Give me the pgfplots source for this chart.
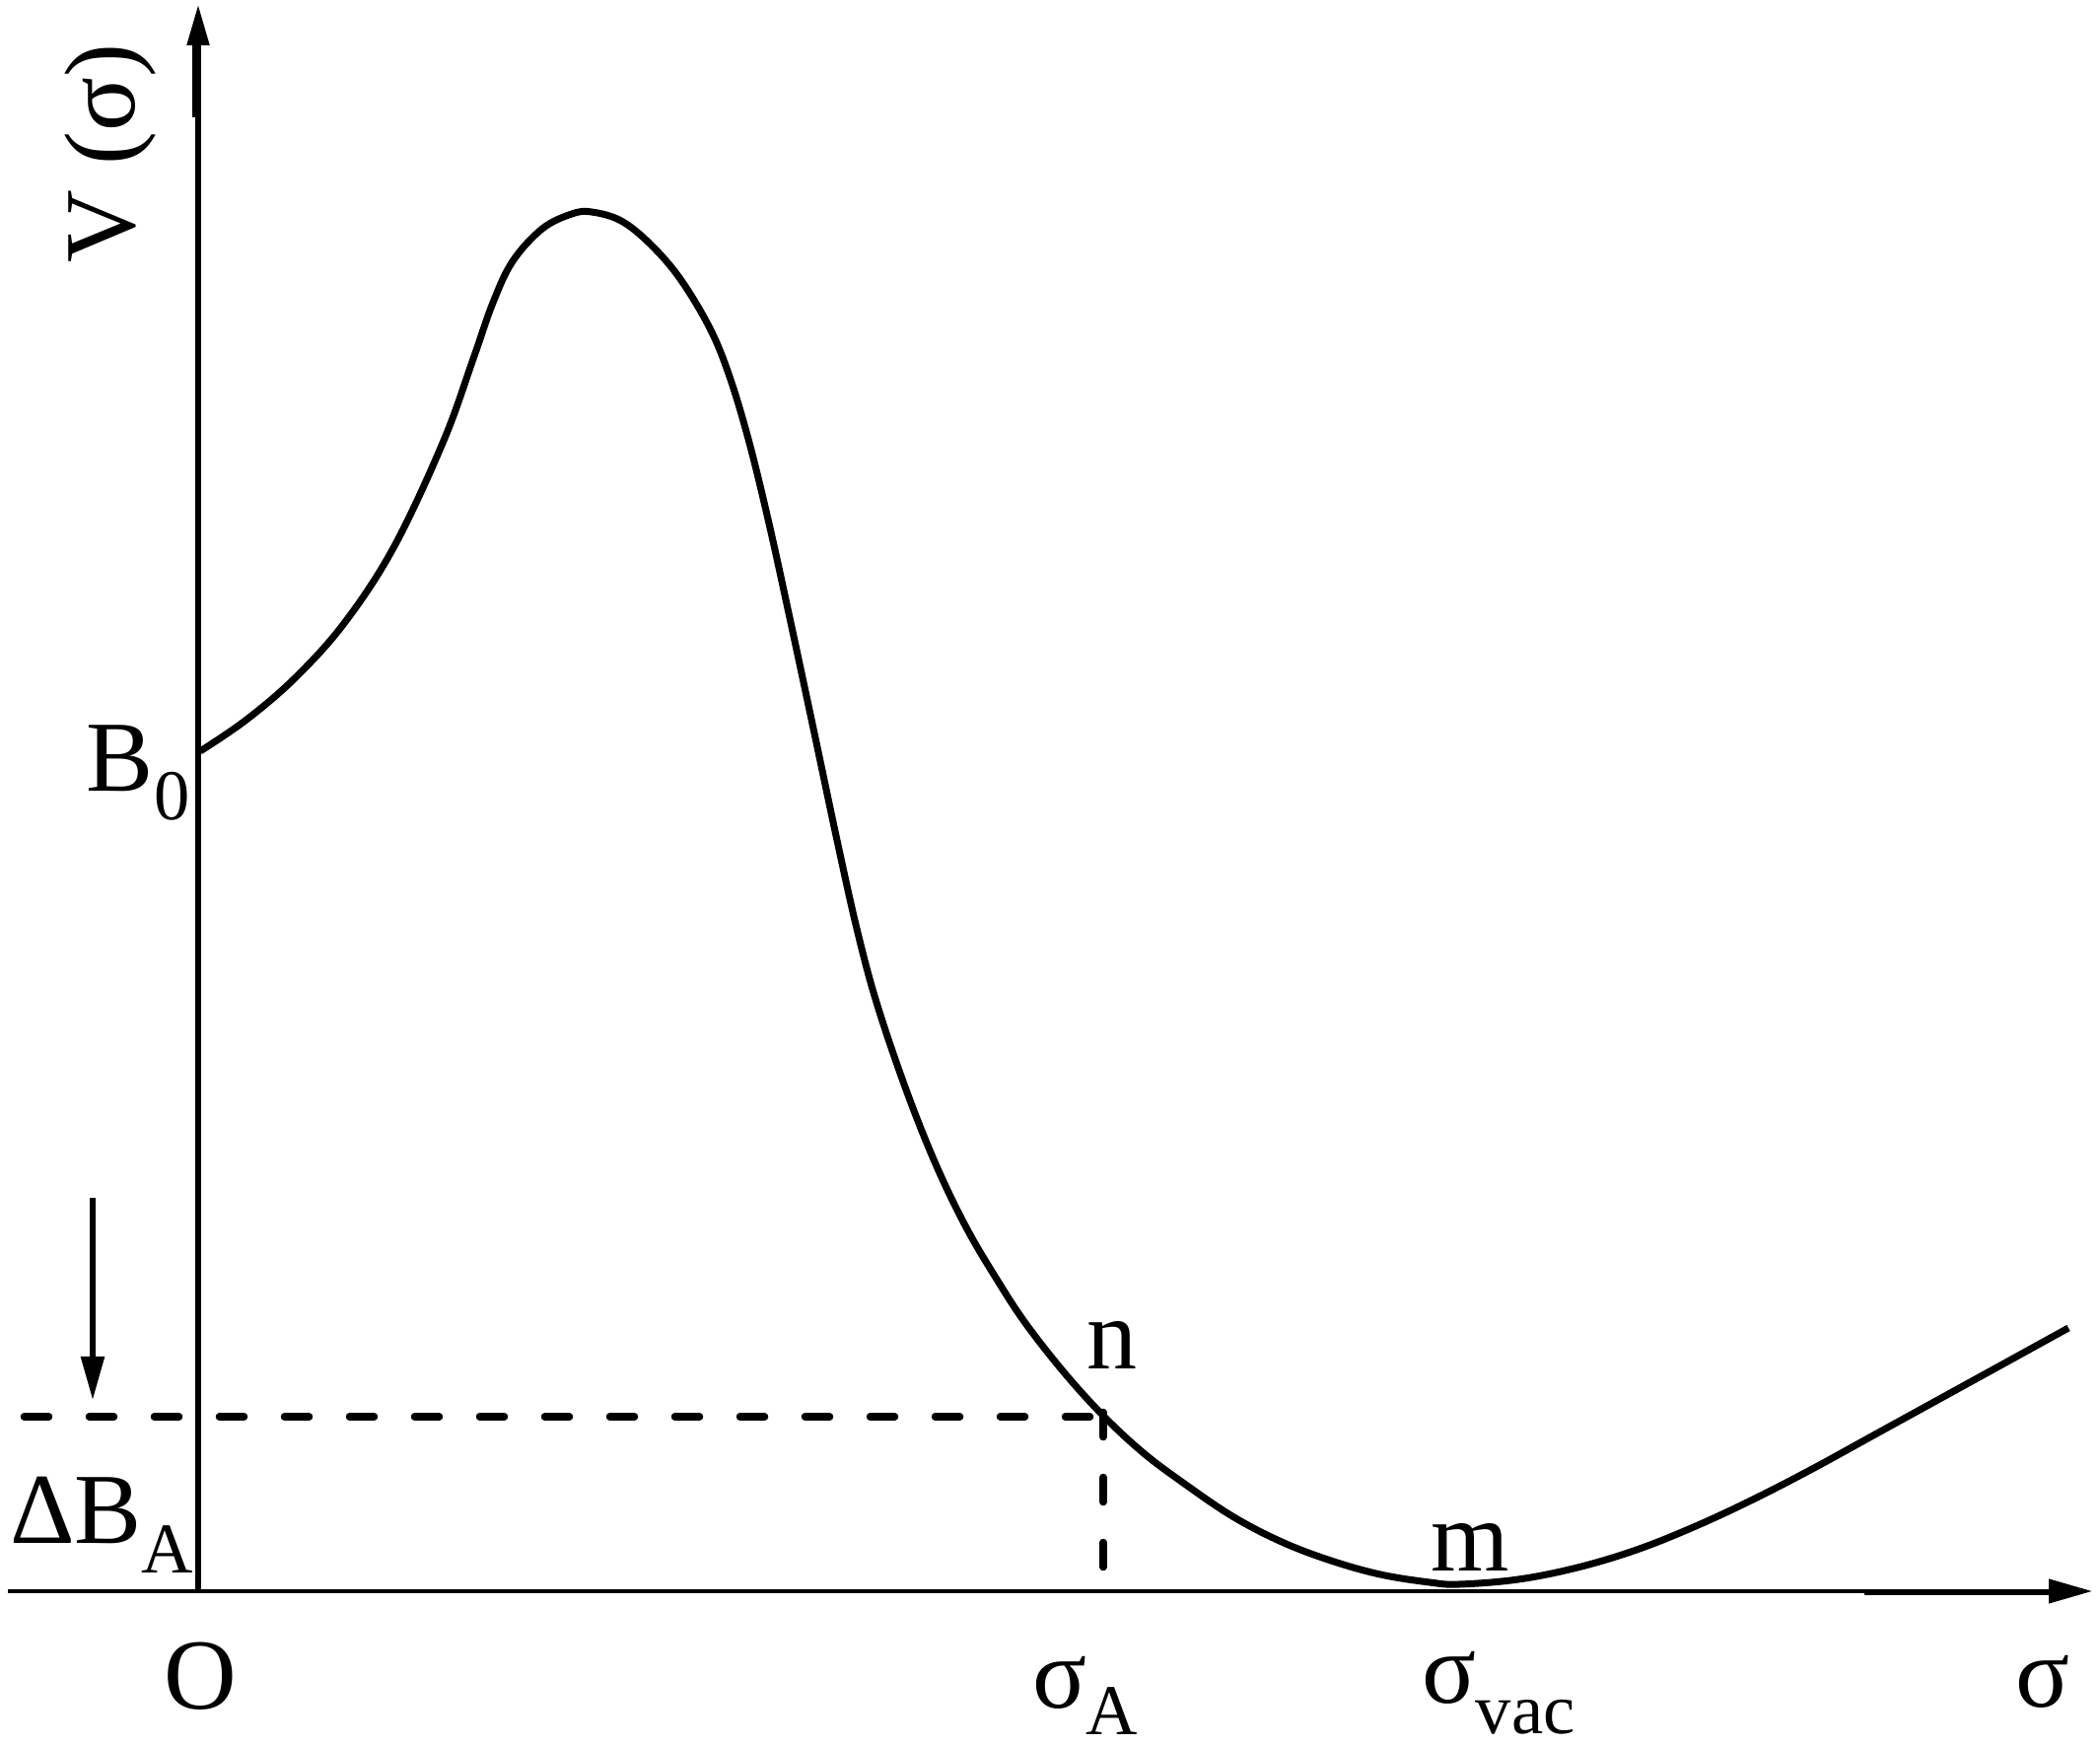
\documentclass[border=0pt]{standalone}
\usepackage{pgfplots}
\pgfplotsset{compat=1.18}
\usepackage{fontspec}
\setmainfont{Liberation Serif}
\usetikzlibrary{arrows.meta}
\newcommand{\lblfont}{\fontsize{20.4}{24}\selectfont}
\newcommand{\subfont}{\fontsize{14.5}{16}\selectfont}
\begin{document}
\begin{tikzpicture}
\begin{axis}[
  width=426pt, height=353.8pt, scale only axis,
  xmin=0, xmax=2130, ymin=0, ymax=1769,
  enlargelimits=false, hide axis, clip=false,
]
% bounding area
\addplot[draw=none] coordinates {(0,0) (2130,1769)};
% y axis
\addplot[line width=1.05pt, -{Triangle[length=8.2pt,width=4.4pt]}] coordinates {(201,153) (201,1764)};
\addplot[line width=1.05pt] coordinates {(198,1650) (198,1723)};
% x axis
\addplot[line width=0.85pt, -{Triangle[length=8.8pt,width=4.8pt]}] coordinates {(8,155) (2122,155)};
\addplot[line width=1.1pt] coordinates {(1891,153.5) (2085,153.5)};
% dashed lines
\addplot[line width=1.5pt, line cap=round, dash pattern=on 5pt off 8.2pt] coordinates {(24.5,332) (1105.5,332)};
\addplot[line width=1.5pt, line cap=round, dash pattern=on 5pt off 8.2pt] coordinates {(1119,336.5) (1119,179.5)};
% left arrow
\addplot[line width=1.1pt, -{Triangle[length=8.8pt,width=4.6pt]}] coordinates {(94,554) (94,349)};
% potential curve
\addplot[line width=1.4pt, smooth, tension=0.6] coordinates {
(203,1007) (250,1039) (300,1082) (350,1138) (400,1215) (450,1322)
(480,1405) (500,1462) (520,1504) (550,1537) (580,1552) (600,1554)
(630,1545) (660,1521) (690,1486) (720,1436) (740,1387) (760,1320)
(780,1238) (800,1147) (825,1030) (850,912) (870,823) (890,749)
(920,661) (950,586) (980,524) (1010,473) (1040,427) (1080,376)
(1120,332) (1160,295) (1200,265) (1250,231) (1300,205) (1350,186)
(1400,172) (1450,164) (1480,162) (1540,167) (1600,179) (1660,197)
(1720,221) (1780,249) (1840,280) (1900,313) (1960,346) (2020,379)
(2098,422)
};
% labels
\node[anchor=base west, inner sep=0pt, font=\lblfont] at (axis cs:87,966) {B\raisebox{-5.8pt}{\subfont 0}};
\node[anchor=base west, inner sep=0pt, font=\lblfont] at (axis cs:9,204) {ΔB\raisebox{-6pt}{\subfont A}};
\node[anchor=base, inner sep=0pt, font=\lblfont] at (axis cs:203,36) {O};
\node[anchor=base west, inner sep=0pt, font=\lblfont] at (axis cs:1046,37) {σ\raisebox{-5.4pt}{\subfont A}};
\node[anchor=base west, inner sep=0pt, font=\lblfont] at (axis cs:1441,42) {σ\raisebox{-6.2pt}{\subfont vac}};
\node[anchor=base west, inner sep=0pt, font=\lblfont] at (axis cs:2043,38) {σ};
\node[anchor=base west, inner sep=0pt, font=\lblfont] at (axis cs:1101,380) {n};
\node[anchor=base west, inner sep=0pt, font=\lblfont] at (axis cs:1450,176) {m};
\node[anchor=base west, inner sep=0pt, font=\lblfont, rotate=90] at (axis cs:136,1501) {V (σ)};
\end{axis}
\end{tikzpicture}
\end{document}
